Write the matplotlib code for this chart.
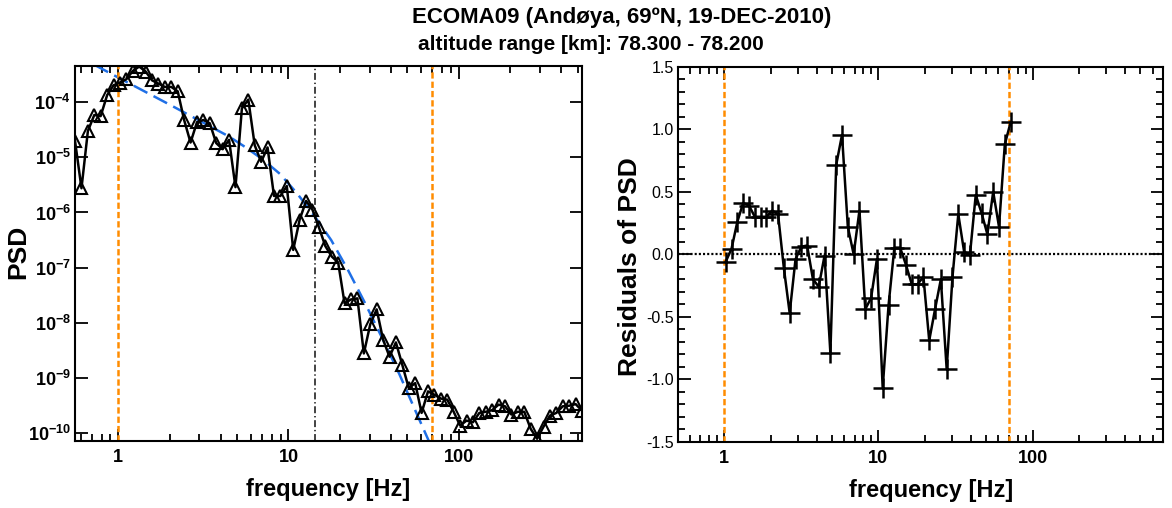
import numpy as np
import matplotlib.pyplot as plt

plt.rcParams['font.family'] = ['Liberation Sans', 'DejaVu Sans']
plt.rcParams['mathtext.fontset'] = 'custom'
plt.rcParams['mathtext.rm'] = 'Liberation Sans'
plt.rcParams['mathtext.bf'] = 'Liberation Sans:bold'
plt.rcParams['lines.scale_dashes'] = False

# spectrum (Hz, log10 PSD)
freq = [0.557, 0.608, 0.663, 0.723, 0.788, 0.860, 0.938, 1.023, 1.116, 1.217,
        1.327, 1.448, 1.579, 1.722, 1.878, 2.049, 2.235, 2.437, 2.658, 2.900,
        3.162, 3.449, 3.762, 4.103, 4.475, 4.881, 5.324, 5.807, 6.333, 6.908,
        7.534, 8.218, 8.963, 9.775, 10.66, 11.63, 12.69, 13.83, 15.09, 16.46,
        17.95, 19.58, 21.35, 23.29, 25.40, 27.71, 30.22, 32.96, 35.95, 39.21,
        42.76, 46.64, 50.87, 55.49, 60.52, 66.01, 71.99, 78.52, 85.64, 93.40,
        101.9, 111.1, 121.2, 132.2, 144.1, 157.2, 171.5, 187.0, 204.0, 222.5,
        242.7, 264.7, 288.7, 314.9, 343.4, 374.6, 408.5, 445.6, 486.0, 530.0]
log_psd = [-4.70, -5.56, -4.52, -4.23, -4.25, -3.87, -3.69, -3.64, -3.58, -3.43,
           -3.35, -3.44, -3.60, -3.66, -3.72, -3.72, -3.80, -4.32, -4.73, -4.36,
           -4.32, -4.38, -4.74, -4.85, -4.68, -5.54, -4.11, -3.95, -4.78, -5.08,
           -4.82, -5.70, -5.70, -5.52, -6.68, -6.13, -5.79, -5.95, -6.27, -6.61,
           -6.80, -6.91, -7.65, -7.58, -7.56, -8.56, -8.03, -7.76, -8.31, -8.62,
           -8.36, -8.77, -9.19, -9.10, -9.64, -9.25, -9.31, -9.38, -9.40, -9.62,
           -9.87, -9.78, -9.81, -9.64, -9.62, -9.59, -9.49, -9.52, -9.67, -9.62,
           -9.62, -9.93, -10.11, -9.89, -9.69, -9.64, -9.52, -9.51, -9.48, -9.60]

# model fit
fit_freq = [0.557, 1.0, 2.0, 3.16, 4.47, 5.62, 7.08, 8.91, 11.2, 14.1,
            17.8, 22.4, 28.2, 35.5, 44.7, 56.2, 70.8]
fit_log_psd = [-3.13, -3.55, -4.04, -4.37, -4.62, -4.82, -5.04, -5.30, -5.65, -6.05,
               -6.50, -7.05, -7.65, -8.28, -8.93, -9.63, -10.33]

# residuals inside the fit range (points 7..56)
res_freq = freq[7:57]
residuals = [-0.06, 0.045, 0.26, 0.41, 0.39, 0.30, 0.30, 0.30, 0.35, 0.32,
             -0.11, -0.47, -0.04, 0.06, 0.07, -0.20, -0.26, -0.01, -0.79, 0.715,
             0.955, 0.22, 0.0, 0.35, -0.44, -0.35, -0.04, -1.07, -0.41, 0.053,
             0.053, -0.085, -0.24, -0.24, -0.18, -0.69, -0.44, -0.20, -0.92, -0.18,
             0.32, 0.02, -0.005, 0.475, 0.33, 0.16, 0.50, 0.22, 0.88, 1.056]

f_low, f_high = 1.0, 70.0
f_inner = 14.3

title = 'ECOMA09 (Andøya, 69ºN, 19-DEC-2010)'
subtitle = 'altitude range [km]: 78.300 - 78.200'

orange = '#ff8c00'
blue = '#1f6fe6'

fig = plt.figure(figsize=(11.72, 5.08), dpi=100)
ax1 = fig.add_axes([0.064, 0.1325, 0.4326, 0.738])
ax2 = fig.add_axes([0.5783, 0.1305, 0.414, 0.738])

# left: PSD
ax1.plot(freq, np.power(10.0, log_psd), color='k', lw=1.8, marker='^', ms=9,
         mfc='none', mec='k', mew=1.5, zorder=3)
ax1.plot(fit_freq, np.power(10.0, fit_log_psd), color=blue, lw=1.8, dashes=(11, 5), zorder=2)
for f in (f_low, f_high):
    ax1.axvline(f, color=orange, lw=1.8, dashes=(4.5, 2.2))
ax1.axvline(f_inner, color='#222222', lw=1.2, dashes=(5, 2, 1, 2))
ax1.set_xscale('log')
ax1.set_yscale('log')
ax1.set_xlim(freq[0], freq[-1])
ax1.set_ylim(10 ** -10.145, 10 ** -3.336)
ax1.set_xticks([1, 10, 100])
ax1.set_xticklabels(['1', '10', '100'], fontsize=13, fontweight='bold')
yt = np.arange(-10, -3)
ax1.set_yticks(10.0 ** yt)
ax1.set_yticklabels([r'$\mathbf{10^{%d}}$' % e for e in yt], fontsize=13)
ax1.yaxis.set_minor_locator(plt.NullLocator())
ax1.set_xlabel('frequency [Hz]', fontsize=17, fontweight='bold', va='center')
ax1.xaxis.set_label_coords(0.5, -0.13)
ax1.set_ylabel('PSD', fontsize=19, fontweight='bold', va='center')
ax1.yaxis.set_label_coords(-0.112, 0.504)

# right: residuals
ax2.plot(res_freq, residuals, color='k', lw=1.8, marker='+', ms=15, mew=1.8, zorder=3)
ax2.axhline(0, color='k', lw=1.6, dashes=(1.5, 1.5))
for f in (f_low, f_high):
    ax2.axvline(f, color=orange, lw=1.8, dashes=(4.5, 2.2))
ax2.set_xscale('log')
ax2.set_xlim(0.5, 700)
ax2.set_ylim(-1.5, 1.5)
ax2.set_xticks([1, 10, 100])
ax2.set_xticklabels(['1', '10', '100'], fontsize=13, fontweight='bold')
ax2.yaxis.set_major_locator(plt.MultipleLocator(0.5))
ax2.yaxis.set_minor_locator(plt.MultipleLocator(0.1))
ax2.yaxis.set_major_formatter(plt.FormatStrFormatter('%.1f'))
ax2.tick_params(axis='y', labelsize=11.5)
ax2.set_xlabel('frequency [Hz]', fontsize=17, fontweight='bold', va='center')
ax2.xaxis.set_label_coords(0.522, -0.13)
ax2.set_ylabel('Residuals of PSD', fontsize=19, fontweight='bold', va='center')
ax2.yaxis.set_label_coords(-0.098, 0.466)

for ax in (ax1, ax2):
    ax.tick_params(which='both', direction='in', top=True, right=True, width=1.3)
    ax.tick_params(which='major', length=9)
    ax.tick_params(which='minor', length=5)
    ax.tick_params(axis='x', pad=6)
    ax.tick_params(axis='y', pad=3)
    for s in ax.spines.values():
        s.set_linewidth(1.5)

fig.text(622 / 1172, 1 - 18 / 508, title, ha='center', va='center',
         fontsize=16, fontweight='bold')
fig.text(591 / 1172, 1 - 44 / 508, subtitle, ha='center', va='center',
         fontsize=15, fontweight='bold')

fig.savefig('out.png', dpi=100)
